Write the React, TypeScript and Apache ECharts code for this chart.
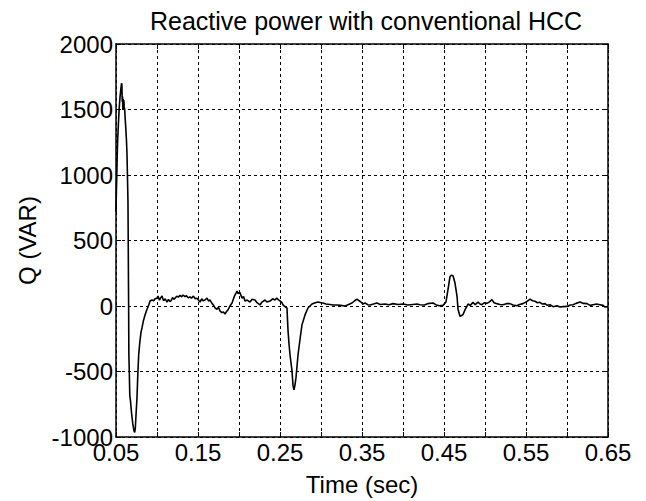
import React, { useEffect, useRef } from "react";
import * as echarts from "echarts";

const titleText = "Reactive power with conventional HCC";
const xName = "Time (sec)";
const yName = "Q (VAR)";

const timeSec = [
  0.05, 0.0505, 0.051, 0.0515, 0.052, 0.053, 0.054, 0.055, 0.056, 0.0567, 0.0572, 0.0576, 0.058, 0.0584, 0.0588,
  0.0592, 0.0596, 0.06, 0.0606, 0.0612, 0.062, 0.0628, 0.0634, 0.064, 0.0646, 0.065, 0.0654, 0.0657, 0.0662, 0.0668,
  0.0676, 0.069, 0.0705, 0.0718, 0.0728, 0.0736, 0.0745, 0.0756, 0.0766, 0.0777, 0.079, 0.0805, 0.0817, 0.0835, 0.0854,
  0.0875, 0.0899, 0.0915, 0.0939, 0.096, 0.0976, 0.1, 0.1012, 0.103, 0.1045, 0.1061, 0.108, 0.11, 0.1122, 0.114,
  0.1155, 0.1171, 0.119, 0.1205, 0.122, 0.124, 0.126, 0.128, 0.13, 0.1317, 0.134, 0.136, 0.138, 0.1402, 0.142,
  0.1445, 0.1465, 0.1488, 0.1505, 0.1524, 0.1545, 0.156, 0.1585, 0.161, 0.163, 0.1646, 0.167, 0.169, 0.1707, 0.173,
  0.175, 0.1768, 0.179, 0.181, 0.1829, 0.185, 0.1866, 0.189, 0.1915, 0.1935, 0.1951, 0.1965, 0.1976, 0.199, 0.201,
  0.2037, 0.2055, 0.2073, 0.21, 0.2134, 0.216, 0.2195, 0.222, 0.2256, 0.228, 0.2317, 0.234, 0.2378, 0.241, 0.2439,
  0.246, 0.248, 0.25, 0.252, 0.2537, 0.256, 0.2585, 0.2598, 0.261, 0.2622, 0.2646, 0.2659, 0.2671, 0.2683, 0.2695,
  0.272, 0.2745, 0.2768, 0.2805, 0.2841, 0.289, 0.293, 0.2963, 0.3, 0.3024, 0.306, 0.311, 0.315, 0.3195, 0.324,
  0.3293, 0.333, 0.3378, 0.341, 0.3439, 0.3465, 0.3488, 0.351, 0.3537, 0.357, 0.3598, 0.364, 0.3683, 0.372, 0.378,
  0.383, 0.3878, 0.394, 0.4, 0.406, 0.412, 0.4171, 0.4207, 0.426, 0.43, 0.4366, 0.44, 0.444, 0.4488, 0.4524,
  0.4549, 0.4573, 0.459, 0.461, 0.4634, 0.4659, 0.4671, 0.4695, 0.471, 0.4732, 0.4756, 0.4793, 0.482, 0.4854, 0.488,
  0.4915, 0.494, 0.4963, 0.499, 0.5024, 0.505, 0.5085, 0.511, 0.5146, 0.518, 0.522, 0.526, 0.5305, 0.534, 0.539,
  0.542, 0.5463, 0.55, 0.5549, 0.558, 0.561, 0.564, 0.5671, 0.57, 0.5732, 0.576, 0.5793, 0.583, 0.5878, 0.5915,
  0.595, 0.6, 0.604, 0.6073, 0.611, 0.6159, 0.62, 0.6244, 0.628, 0.6317, 0.636, 0.6402, 0.644, 0.6463, 0.65,
];

const reactiveQ = [
  720, 880, 1000, 1150, 1260, 1400, 1520, 1600, 1660, 1700, 1690, 1560, 1600, 1500, 1580,
  1510, 1570, 1520, 1500, 1430, 1350, 1260, 1160, 980, 800, 400, 0, -372, -500, -680,
  -720, -820, -900, -950, -965, -930, -820, -700, -520, -372, -280, -200, -167, -110, -68,
  -30, 8, 38, 46, 40, 55, 60, 76, 45, 62, 76, 40, 55, 30, 50,
  35, 40, 65, 50, 60, 75, 68, 82, 70, 84, 72, 78, 62, 70, 60,
  75, 55, 60, 45, 30, 55, 40, 46, 60, 38, 46, 20, 5, -15, -25,
  -10, -38, -50, -45, -61, -40, -30, 0, 23, 60, 84, 100, 114, 95, 105,
  60, 72, 38, 45, 30, 52, 46, 25, 8, 30, 46, 30, 38, 55, 46,
  60, 48, 38, 30, 8, -5, -15, -190, -290, -372, -494, -608, -640, -600, -547,
  -372, -250, -144, -68, -15, 15, 25, 30, 25, 23, 15, 12, 8, 8, 5,
  0, 10, 23, 40, 53, 40, 30, 15, 23, 10, 8, 15, 23, 12, 15,
  10, 18, 12, 15, 8, 12, 15, 10, 8, 18, 23, 10, 2, 5, 30,
  127, 225, 235, 231, 175, 74, -25, -78, -75, -65, -30, 15, 5, 28, 10,
  30, 15, 10, 25, 20, 30, 48, 25, 18, 12, 10, 18, 18, 8, 2,
  12, 18, 30, 53, 40, 36, 25, 28, 15, 18, 5, 10, -5, 2, -8,
  -5, -3, 8, 10, 20, 30, 20, 18, 5, 10, 15, 10, 5, -8, -5,
];

const FONT = "'Liberation Sans', Arial, sans-serif";

export default function App() {
  const ref = useRef<HTMLDivElement>(null);
  useEffect(() => {
    if (!ref.current) return;
    const chart = echarts.init(ref.current, undefined, { renderer: "svg" });
    const data = timeSec.map((t, i) => [t, reactiveQ[i]]);
    const axisLineStyle = { color: "#000", width: 1.5 };
    chart.setOption({
      animation: false,
      backgroundColor: "#fff",
      title: {
        text: titleText,
        left: 361,
        top: 3,
        textAlign: "center",
        textStyle: { fontFamily: FONT, fontSize: 25, fontWeight: "normal", color: "#000" },
      },
      grid: { left: 116, top: 44, right: 38, bottom: 62, containLabel: false },
      xAxis: [
        {
          type: "value",
          min: 0.05,
          max: 0.65,
          interval: 0.05,
          position: "bottom",
          name: xName,
          nameLocation: "middle",
          nameGap: 35,
          nameTextStyle: { fontFamily: FONT, fontSize: 24, color: "#000" },
          axisLine: { show: true, onZero: false, lineStyle: axisLineStyle },
          axisTick: { show: true, inside: true, length: 5, lineStyle: { color: "#000" } },
          axisLabel: {
            fontFamily: FONT,
            fontSize: 24,
            color: "#000",
            margin: 3,
            formatter: (v: number) => (Math.round(v * 100) % 10 === 5 ? v.toFixed(2) : ""),
          },
          splitLine: { show: true, lineStyle: { color: "#000", type: [3, 3], width: 1 } },
        },
        {
          type: "value",
          min: 0.05,
          max: 0.65,
          interval: 0.05,
          position: "top",
          axisLine: { show: true, onZero: false, lineStyle: axisLineStyle },
          axisTick: { show: true, inside: true, length: 5, lineStyle: { color: "#000" } },
          axisLabel: { show: false },
          splitLine: { show: false },
        },
      ],
      yAxis: [
        {
          type: "value",
          min: -1000,
          max: 2000,
          interval: 500,
          position: "left",
          name: yName,
          nameLocation: "middle",
          nameGap: 77,
          nameTextStyle: { fontFamily: FONT, fontSize: 24, color: "#000" },
          axisLine: { show: true, onZero: false, lineStyle: axisLineStyle },
          axisTick: { show: true, inside: true, length: 5, lineStyle: { color: "#000" } },
          axisLabel: {
            fontFamily: FONT,
            fontSize: 24,
            color: "#000",
            margin: 3,
            formatter: (v: number) => String(Math.round(v)),
          },
          splitLine: { show: true, lineStyle: { color: "#000", type: [3, 3], width: 1 } },
        },
        {
          type: "value",
          min: -1000,
          max: 2000,
          interval: 500,
          position: "right",
          axisLine: { show: true, onZero: false, lineStyle: axisLineStyle },
          axisTick: { show: true, inside: true, length: 5, lineStyle: { color: "#000" } },
          axisLabel: { show: false },
          splitLine: { show: false },
        },
      ],
      series: [
        {
          type: "line",
          data,
          xAxisIndex: 0,
          yAxisIndex: 0,
          showSymbol: false,
          symbol: "none",
          lineStyle: { color: "#000", width: 1.6 },
        },
      ],
    });
    return () => chart.dispose();
  }, []);
  return <div ref={ref} style={{ width: 646, height: 501, position: "absolute", left: 0, top: 0 }} />;
}
